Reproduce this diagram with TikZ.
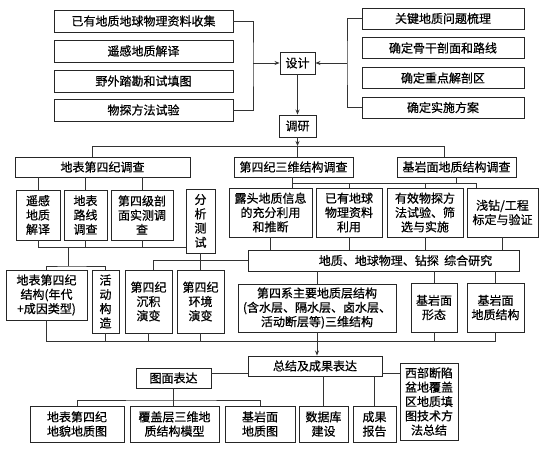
\documentclass[tikz,border=0pt]{standalone}
\usepackage{fontspec}
\setmainfont{Noto Sans CJK SC}[FakeBold=0.6]
\usetikzlibrary{arrows.meta}
\begin{document}
\begin{tikzpicture}[x=1pt,y=-1pt,
  font=\fontsize{12}{14.3}\selectfont,
  box/.style={draw=black!85, line width=0.9pt, inner sep=0pt, align=center, fill=white},
  ln/.style={draw=black!80, line width=0.8pt},
  arr/.style={ln, -{Stealth[length=5pt,width=4pt]}}]
\fill[white] (0,0) rectangle (546,452);
\useasboundingbox (0,0) rectangle (546,452);

% top row
\node[box, minimum width=179pt, minimum height=22pt] (L1) at (143.5,21) {已有地质地球物理资料收集};
\node[box, minimum width=179pt, minimum height=22pt] (L2) at (143.5,51) {遥感地质解译};
\node[box, minimum width=179pt, minimum height=22pt] (L3) at (143.5,81) {野外踏勘和试填图};
\node[box, minimum width=179pt, minimum height=22pt] (L4) at (143.5,110) {物探方法试验};
\node[box, minimum width=162pt, minimum height=21pt] (R1) at (443,18.5) {关键地质问题梳理};
\node[box, minimum width=162pt, minimum height=21pt] (R2) at (443,48) {确定骨干剖面和路线};
\node[box, minimum width=162pt, minimum height=21pt] (R3) at (443,78) {确定重点解剖区};
\node[box, minimum width=162pt, minimum height=21pt] (R4) at (443,107.5) {确定实施方案};
\node[box, minimum width=35pt, minimum height=22pt] (SJ) at (297.5,63) {设计};
\node[box, minimum width=37pt, minimum height=22pt] (DY) at (297.5,126) {调研};

\coordinate (lb) at (253,63);
\coordinate (rb) at (347,63);
\draw[ln] (L1.east) -| (lb) |- (L4.east);
\draw[arr] (lb) -- (SJ.west);
\draw[ln] (R1.west) -| (rb) |- (R4.west);
\draw[arr] (rb) -- (SJ.east);
\draw[arr] (SJ.south) -- (DY.north);

% layer 2
\node[box, minimum width=175pt, minimum height=20pt] (A) at (102.5,167) {地表第四纪调查};
\node[box, minimum width=119pt, minimum height=20pt] (B) at (293.5,167) {第四纪三维结构调查};
\node[box, minimum width=119pt, minimum height=20pt] (C) at (456.5,167) {基岩面地质结构调查};

\coordinate (h1) at (297.5,146);
\coordinate (hA) at (92,146);
\coordinate (hC) at (444,146);
\draw[arr] (DY.south) -- (h1);
\draw[ln] (h1) -- (h1 |- B.north);
\draw[ln] (A.north -| hA) |- (hC) -- (hC |- C.north);

% layer 3 left
\node[box, minimum width=44pt, minimum height=50pt] (A1) at (38,215) {遥感\\地质\\解译};
\node[box, minimum width=43pt, minimum height=50pt] (A2) at (85.5,215) {地表\\路线\\调查};
\node[box, minimum width=62pt, minimum height=50pt] (A3) at (142,215) {第四级剖\\面实测调\\查};
\node[box, minimum width=29pt, minimum height=64pt] (AT) at (200.5,221) {分\\析\\测\\试};
\draw[ln] (A1.north) -- (A1.north |- A.south);
\draw[ln] (A2.north) -- (A2.north |- A.south);
\draw[ln] (A3.north) -- (A3.north |- A.south);
\coordinate (g1) at (0,247);
\draw[ln] (A1.south) -- (A1.south |- g1) -- (AT.west |- g1);
\draw[ln] (A2.south) -- (A2.south |- g1);
\draw[ln] (A3.south) -- (A3.south |- g1);

% layer 3 right
\node[box, minimum width=83pt, minimum height=49pt] (B1) at (270.5,212.5) {露头地质信息\\的充分利用\\和推断};
\node[box, minimum width=66pt, minimum height=49pt] (B2) at (349,212.5) {已有地球\\物理资料\\利用};
\node[box, minimum width=76pt, minimum height=49pt] (B3) at (425,212.5) {有效物探方\\法试验、筛\\选与实施};
\node[box, minimum width=71pt, minimum height=49pt] (B4) at (502.5,212.5) {浅钻/工程\\标定与验证};
\coordinate (m1) at (292,183);
\coordinate (m2) at (476,183);
\draw[ln] (m1 |- B.south) -- (m1 |- B1.north);
\draw[ln] (m1) -- (m2) -- (m2 |- B4.north);
\draw[ln] (B2.north) -- (B2.north |- m1);
\draw[ln] (B3.north) -- (B3.north |- m1);
\draw[ln] (C.south) -- (C.south |- m1);

% synthesis
\node[box, minimum width=271pt, minimum height=21pt] (K) at (383.5,260.5) {\hspace*{44pt}地质、地球物理、钻探\ \ 综合研究};
\draw[ln] (B1.south) -- (B1.south |- K.north);
\draw[ln] (B2.south) -- (B2.south |- K.north);
\draw[ln] (B3.south) -- (B3.south |- K.north);
\draw[ln] (B4.south) -- (B4.south |- K.north);

% layer 4
\node[box, minimum width=81pt, minimum height=50pt] (D1) at (46.5,295) {地表第四纪\\结构(年代\\+成因类型)};
\node[box, minimum width=27pt, minimum height=63pt] (D2) at (105.5,301.5) {活\\动\\构\\造};
\node[box, minimum width=47pt, minimum height=63pt] (D3) at (148.5,301.5) {第四纪\\沉积\\演变};
\node[box, minimum width=47pt, minimum height=63pt] (D4) at (200.5,301.5) {第四纪\\环境\\演变};
\node[box, minimum width=158pt, minimum height=48pt] (D5) at (317,308) {第四系主要地质层结构\\(含水层、隔水层、卤水层、\\活动断层等)三维结构};
\node[box, minimum width=46pt, minimum height=49pt] (D6) at (434,307.5) {基岩面\\形态};
\node[box, minimum width=57pt, minimum height=49pt] (D7) at (495.5,307.5) {基岩面\\地质结构};

\coordinate (g2) at (68,247);
\coordinate (g3) at (68,266);
\draw[ln] (g2) -- (g3);
\draw[ln] (D1.north) |- (g3) -| (D2.north);
\coordinate (k1) at (153,260);
\draw[ln] (D3.north -| k1) |- (K.west);
\draw[ln] (AT.south) -- (AT.south |- D4.north);
\draw[ln] (D5.north |- K.south) -- (D5.north);
\draw[ln] (D6.north |- K.south) -- (D6.north);
\draw[ln] (D7.north |- K.south) -- (D7.north);

\coordinate (b1) at (0,341);
\draw[ln] (D1.south) -- (D1.south |- b1) -- (D7.south |- b1) -- (D7.south);
\draw[ln] (D2.south) -- (D2.south |- b1);
\draw[ln] (D3.south) -- (D3.south |- b1);
\draw[ln] (D4.south) -- (D4.south |- b1);
\draw[ln] (D6.south) -- (D6.south |- b1);

% results
\node[box, minimum width=134pt, minimum height=20pt] (S) at (315,366) {总结及成果表达};
\node[box, minimum width=75pt, minimum height=20pt] (T) at (173.5,378) {图面表达};
\node[box, minimum width=58pt, minimum height=77pt] (W) at (429,401.5) {西部断陷\\盆地覆盖\\区地质填\\图技术方\\法总结};
\node[box, minimum width=94pt, minimum height=36pt] (E1) at (77,424) {地表第四纪\\地貌地质图};
\node[box, minimum width=89pt, minimum height=36pt] (E2) at (174.5,424) {覆盖层三维地\\质结构模型};
\node[box, minimum width=70pt, minimum height=36pt] (E3) at (260,424) {基岩面\\地质图};
\node[box, minimum width=49pt, minimum height=36pt] (E4) at (323.5,424) {数据库\\建设};
\node[box, minimum width=43pt, minimum height=36pt] (E5) at (374.5,424) {成果\\报告};

\draw[arr] (D5.south) -- (D5.south |- S.north);
\coordinate (ly) at (0,373);
\draw[ln] (T.east |- ly) -- (S.west |- ly);
\draw[ln] (S.east |- ly) -- (W.west |- ly);
\coordinate (ty) at (0,400);
\draw[ln] (T.south) -- (T.south |- E2.north);
\draw[ln] (E1.north) |- (T.south |- ty) -| (E3.north);
\draw[ln] (S.south -| E4.north) -- (E4.north);
\draw[ln] (S.south -| E5.north) -- (E5.north);
\end{tikzpicture}
\end{document}
